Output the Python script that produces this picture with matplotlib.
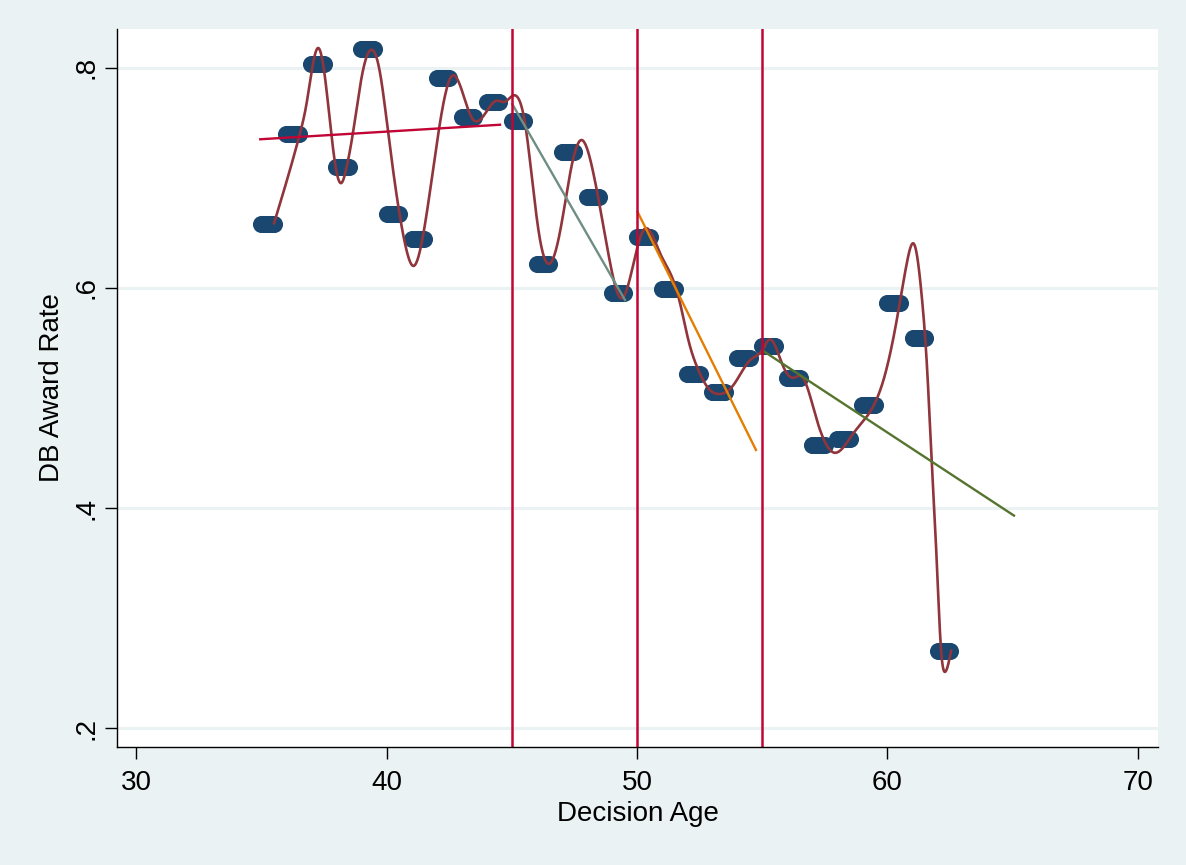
import numpy as np
import matplotlib
matplotlib.use("Agg")
import matplotlib.pyplot as plt

# ---------------- data ----------------
ages = [35, 36, 37, 38, 39, 40, 41, 42, 43, 44, 45, 46, 47, 48,
        49, 50, 51, 52, 53, 54, 55, 56, 57, 58, 59, 60, 61, 62]
award_rate = [0.658, 0.7395, 0.803, 0.7098, 0.817, 0.6668, 0.6441, 0.791,
              0.7552, 0.7688, 0.7519, 0.622, 0.7234, 0.6823, 0.5951, 0.646,
              0.5987, 0.5218, 0.5052, 0.5363, 0.5472, 0.5184, 0.457, 0.4628,
              0.4936, 0.586, 0.5542, 0.2705]
month_offsets = [0, 1, 2, 3, 4, 5, 6]  # months within each age year

# spline (mspline) curve
curve_x = [35.51, 36.53, 36.80, 37.27, 37.53, 37.80, 38.00, 38.20, 38.40, 38.67,
           39.00, 39.40, 39.73, 40.06, 40.40, 40.75, 41.09, 41.43, 42.10, 42.62,
           43.42, 44.39, 44.72, 45.04, 45.53, 45.86, 46.13, 46.53, 46.99, 47.33,
           47.79, 48.26, 48.59, 48.93, 49.36, 50.26, 50.92, 51.39, 51.72, 52.05,
           52.45, 52.85, 53.25, 53.85, 54.52, 55.05, 55.25, 55.85, 56.25, 56.58,
           57.18, 57.88, 58.64, 59.17, 59.84, 60.37, 60.77, 61.08, 61.37, 61.57,
           61.77, 61.97, 62.13, 62.31, 62.54]
curve_y = [0.6587, 0.739, 0.7664, 0.8179, 0.7936, 0.7391, 0.7059, 0.6953, 0.7089,
           0.7422, 0.7906, 0.8163, 0.7967, 0.7422, 0.6847, 0.639, 0.620, 0.6441,
           0.745, 0.7927, 0.754, 0.770, 0.769, 0.7746, 0.7495, 0.689, 0.6435,
           0.6223, 0.6587, 0.704, 0.7343, 0.704, 0.6647, 0.6223, 0.5906, 0.6526,
           0.6314, 0.6102, 0.586, 0.5527, 0.5254, 0.5088, 0.5036, 0.5118, 0.5345,
           0.5451, 0.5527, 0.528, 0.5184, 0.5194, 0.480, 0.4503, 0.468, 0.483,
           0.5163, 0.5708, 0.6223, 0.639, 0.592, 0.5315, 0.4407, 0.35, 0.274,
           0.2514, 0.2705]

# linear fits by segment: (x0, x1), (y0, y1)
fit_red_x = [34.96, 44.53]
fit_red_y = [0.735, 0.7482]
fit_teal_x = [45.02, 49.52]
fit_teal_y = [0.767, 0.589]
fit_orange_x = [50.02, 54.75]
fit_orange_y = [0.6692, 0.4528]
fit_green_x = [55.02, 65.05]
fit_green_y = [0.543, 0.3932]

cutoffs = [45, 50, 55]

xticks = [30, 40, 50, 60, 70]
yticks = [0.2, 0.4, 0.6, 0.8]
ytick_labels = [".2", ".4", ".6", ".8"]


def natural_spline(x, y, xs):
    x = np.asarray(x, float)
    y = np.asarray(y, float)
    n = len(x)
    h = np.diff(x)
    A = np.zeros((n, n))
    b = np.zeros(n)
    A[0, 0] = 1.0
    A[-1, -1] = 1.0
    for i in range(1, n - 1):
        A[i, i - 1] = h[i - 1]
        A[i, i] = 2 * (h[i - 1] + h[i])
        A[i, i + 1] = h[i]
        b[i] = 6 * ((y[i + 1] - y[i]) / h[i] - (y[i] - y[i - 1]) / h[i - 1])
    M = np.linalg.solve(A, b)
    idx = np.clip(np.searchsorted(x, xs) - 1, 0, n - 2)
    x0, x1 = x[idx], x[idx + 1]
    hh = h[idx]
    return (M[idx] * (x1 - xs) ** 3 / (6 * hh) + M[idx + 1] * (xs - x0) ** 3 / (6 * hh)
            + (y[idx] / hh - M[idx] * hh / 6) * (x1 - xs)
            + (y[idx + 1] / hh - M[idx + 1] * hh / 6) * (xs - x0))


# ---------------- style ----------------
BG = "#EAF2F3"
NAVY = "#1A476F"
MAROON = "#90353B"
CRANBERRY = "#C10534"
TEAL = "#6E8E84"
DKORANGE = "#E37E00"
FGREEN = "#55752F"

plt.rcParams["font.family"] = ["Liberation Sans", "DejaVu Sans"]

fig = plt.figure(figsize=(11.86, 8.65), dpi=100, facecolor=BG)
ax = fig.add_axes([117 / 1186, 1 - 747 / 865, (1158 - 117) / 1186, (747 - 29) / 865])
ax.set_facecolor("white")

ax.set_xlim(29.24, 70.8)
ax.set_ylim(0.8 - (747 - 67.7) / 1101, 0.8 + (67.7 - 29) / 1101)

for yt in yticks:
    ax.axhline(yt, color=BG, lw=2.2, zorder=0)

# scatter of bin means (one dot per month of age)
px, py = [], []
for a, v in zip(ages, award_rate):
    for mo in month_offsets:
        px.append(a + mo / 12)
        py.append(v)
ax.plot(px, py, "o", color=NAVY, ms=12.3, mew=0, zorder=2)

# spline curve
xs = np.linspace(curve_x[0], curve_x[-1], 2000)
ax.plot(xs, natural_spline(curve_x, curve_y, xs), color=MAROON, lw=1.9, zorder=3)

# linear fits
ax.plot(fit_red_x, fit_red_y, color=CRANBERRY, lw=1.7, zorder=4)
ax.plot(fit_teal_x, fit_teal_y, color=TEAL, lw=1.7, zorder=4)
ax.plot(fit_orange_x, fit_orange_y, color=DKORANGE, lw=1.7, zorder=4)
ax.plot(fit_green_x, fit_green_y, color=FGREEN, lw=1.7, zorder=4)

for c in cutoffs:
    ax.axvline(c, color=CRANBERRY, lw=1.8, zorder=5)

for s in ["top", "right"]:
    ax.spines[s].set_visible(False)
for s in ["left", "bottom"]:
    ax.spines[s].set_linewidth(1.0)
    ax.spines[s].set_color("black")
    ax.spines[s].set_zorder(6)

ax.set_xticks(xticks)
ax.set_yticks(yticks)
ax.set_yticklabels(ytick_labels)
ax.tick_params(axis="both", direction="out", length=8.5, width=1.0,
               labelsize=20, colors="black")
ax.tick_params(axis="x", pad=8)
ax.tick_params(axis="y", pad=4)
for lab in ax.get_yticklabels():
    lab.set_rotation(90)
    lab.set_va("center")

ax.set_xlabel("Decision Age", fontsize=20, labelpad=4)
ax.set_ylabel("DB Award Rate", fontsize=20, labelpad=6)

fig.savefig("out.png", dpi=100, facecolor=BG)
